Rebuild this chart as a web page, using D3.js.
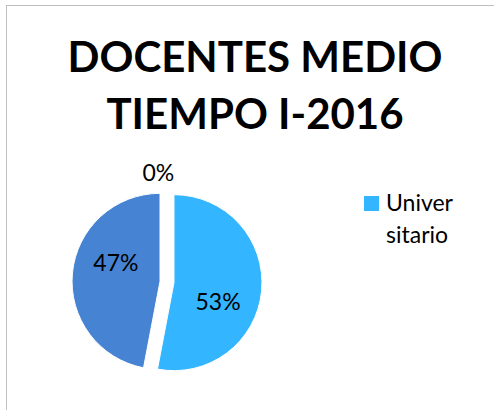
<!DOCTYPE html>
<html>
<head>
<meta charset="utf-8">
<script src="https://cdn.jsdelivr.net/npm/d3@7"></script>
<style>
	body { margin: 0; background: #fff; }
	svg { display: block; }
</style>
</head>
<body>
<script>
	// data
	var categories = ["Universitario", "Técnico", "Otro"];
	var values = [53, 47, 0];
	var labels = ["53%", "47%", "0%"];
	var colors = ["#33b5ff", "#4684d3", "#a5a5a5"];
	var title_lines = ["DOCENTES MEDIO", "TIEMPO I-2016"];

	var w = 494,
		h = 410;
	var font = "Lato, 'Open Sans', sans-serif";

	var svg = d3.select("body")
		.append("svg")
		.attr("width", w)
		.attr("height", h);

	// chart border (runs off the right and bottom)
	svg.append("rect")
		.attr("x", 6.5)
		.attr("y", 5.5)
		.attr("width", w + 20)
		.attr("height", h + 20)
		.attr("fill", "#fff")
		.attr("stroke", "#bfbfbf")
		.attr("stroke-width", 1);

	// title
	svg.append("g")
		.selectAll("text")
		.data(title_lines)
		.enter()
		.append("text")
		.attr("x", 255)
		.attr("y", function(d, i) { return 72 + i * 57; })
		.attr("text-anchor", "middle")
		.attr("font-family", font)
		.attr("font-weight", "bold")
		.attr("font-size", 42)
		.attr("fill", "#000")
		.text(function(d) { return d; });

	// pie
	var cx = 167,
		cy = 282,
		radius = 88,
		explode = 7;

	var pie = d3.pie().sort(null).value(function(d) { return d; });
	var arcs = pie(values);
	var arc = d3.arc().innerRadius(0).outerRadius(radius);

	var g = svg.append("g").attr("transform", "translate(" + cx + "," + cy + ")");

	function mid(d) { return (d.startAngle + d.endAngle) / 2; }

	g.selectAll("path")
		.data(arcs)
		.enter()
		.append("path")
		.attr("d", arc)
		.attr("fill", function(d, i) { return colors[i]; })
		.attr("stroke", "#fff")
		.attr("stroke-width", 1)
		.attr("transform", function(d) {
			var a = mid(d);
			return "translate(" + explode * Math.sin(a) + "," + (-explode * Math.cos(a)) + ")";
		});

	// data labels
	g.selectAll("text")
		.data(arcs)
		.enter()
		.append("text")
		.attr("x", function(d) {
			var a = mid(d);
			if (d.value == 0) return (radius + 21) * Math.sin(a - 0.08);
			return explode * Math.sin(a) + 48 * Math.sin(a + 0.31);
		})
		.attr("y", function(d) {
			var a = mid(d);
			if (d.value == 0) return -(radius + 21) * Math.cos(a - 0.08);
			return -explode * Math.cos(a) - 48 * Math.cos(a + 0.31);
		})
		.attr("dy", "0.35em")
		.attr("text-anchor", "middle")
		.attr("font-family", font)
		.attr("font-size", 23)
		.attr("fill", "#000")
		.text(function(d, i) { return labels[i]; });

	// legend (only the first entry fits, name wrapped)
	var legend = svg.append("g").attr("transform", "translate(364,196)");
	legend.append("rect")
		.attr("width", 15)
		.attr("height", 15)
		.attr("fill", colors[0]);
	legend.append("text")
		.attr("x", 22)
		.attr("y", 15)
		.attr("font-family", font)
		.attr("font-size", 23)
		.attr("fill", "#000")
		.text(categories[0].slice(0, 6));
	legend.append("text")
		.attr("x", 22)
		.attr("y", 47)
		.attr("font-family", font)
		.attr("font-size", 23)
		.attr("fill", "#000")
		.text(categories[0].slice(6));
</script>
</body>
</html>
